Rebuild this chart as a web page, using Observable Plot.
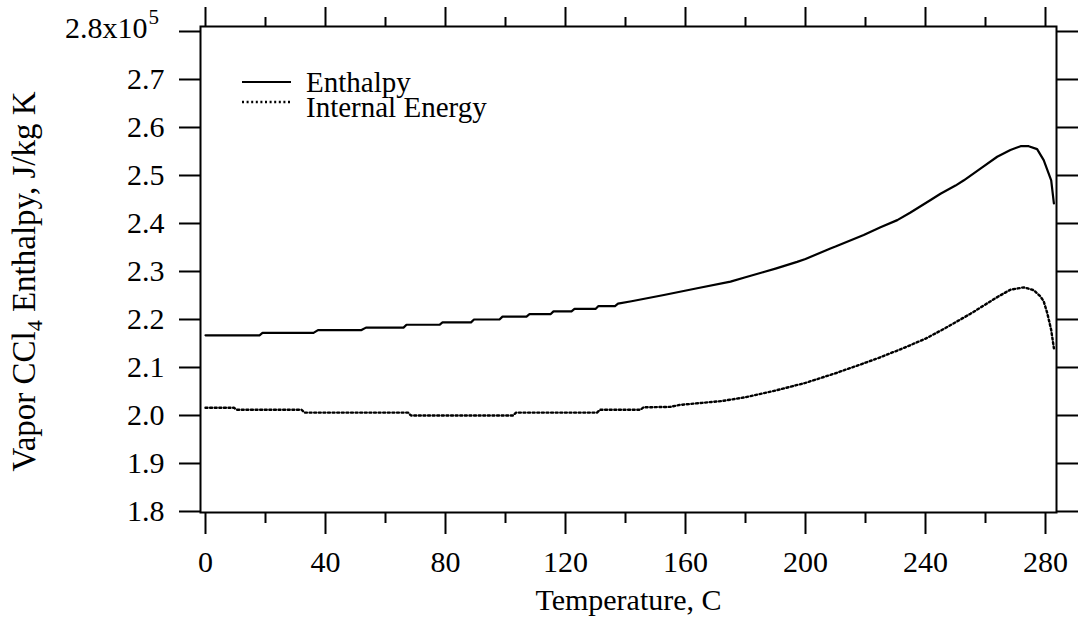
<!DOCTYPE html>
<html>
<head>
<meta charset="utf-8">
<script src="https://cdn.jsdelivr.net/npm/d3@7"></script>
<script src="https://cdn.jsdelivr.net/npm/@observablehq/plot@0.6"></script>
<style>
  html, body { margin: 0; padding: 0; background: #fff; }
  #chart svg { display: block; }
</style>
</head>
<body>
<div id="chart"></div>
<script>
// ---- Data (enthalpy values in units of 10^5 J/kg K) ----
const enthalpyTemperature = [0, 18, 19, 36, 37.5, 52, 53.5, 66, 67, 78, 79, 88.5, 89.5, 98, 99, 107, 108, 115, 116, 122, 123, 130, 131, 136.5, 137.5, 142, 152.8, 163.9, 175, 180, 186.1, 190, 197.2, 200, 208.3, 210, 219.4, 225, 230.6, 235, 241.7, 245, 250, 252.8, 258.9, 263.9, 268.3, 271.7, 274.4, 277.2, 279.4, 281.9, 282.8];
const enthalpyValues = [2.167, 2.167, 2.172, 2.172, 2.178, 2.178, 2.183, 2.183, 2.189, 2.189, 2.194, 2.194, 2.200, 2.200, 2.206, 2.206, 2.211, 2.211, 2.217, 2.217, 2.222, 2.222, 2.228, 2.228, 2.233, 2.238, 2.251, 2.265, 2.279, 2.288, 2.299, 2.306, 2.320, 2.326, 2.348, 2.352, 2.376, 2.392, 2.407, 2.423, 2.449, 2.462, 2.479, 2.490, 2.517, 2.539, 2.553, 2.561, 2.561, 2.555, 2.532, 2.490, 2.442];

const energyTemperature = [0, 9.5, 10.5, 32, 33, 67.5, 68.5, 102.5, 103.5, 130.5, 131.5, 145, 146, 155, 158, 165, 172, 180, 190, 200, 210, 220, 224, 232.5, 240, 246, 255, 261.7, 264, 268.3, 272.8, 276.1, 278.3, 279.4, 280.6, 281.9, 282.8];
const energyValues = [2.016, 2.016, 2.012, 2.012, 2.006, 2.006, 2.000, 2.000, 2.006, 2.006, 2.012, 2.012, 2.017, 2.018, 2.022, 2.026, 2.030, 2.038, 2.052, 2.068, 2.088, 2.110, 2.119, 2.140, 2.160, 2.180, 2.212, 2.238, 2.247, 2.262, 2.267, 2.261, 2.248, 2.238, 2.213, 2.178, 2.140];

const seriesNames = ["Enthalpy", "Internal Energy"];
const xMajorTicks = [0, 40, 80, 120, 160, 200, 240, 280];
const xMinorTicks = [20, 60, 100, 140, 180, 220, 260];
const yTicks = [1.8, 1.9, 2.0, 2.1, 2.2, 2.3, 2.4, 2.5, 2.6, 2.7, 2.8];
const yTopLabel = "2.8x10";
const yTopExponent = "5";
const xTitle = "Temperature, C";
const yTitle = "Vapor CCl4 Enthalpy, J/kg K";

// ---- Tables built from arrays ----
const enthalpyData = enthalpyTemperature.map((t, i) => ({t, v: enthalpyValues[i]}));
const energyData = energyTemperature.map((t, i) => ({t, v: energyValues[i]}));

const FONT = '"Liberation Serif", "Times New Roman", Times, serif';

const chart = Plot.plot({
  width: 1078,
  height: 623,
  marginLeft: 200,
  marginRight: 22,
  marginTop: 26,
  marginBottom: 111,
  style: {fontFamily: FONT, fontSize: "30px", color: "black", background: "white"},
  x: {domain: [-5/3, 283.667], label: null},
  y: {domain: [1.7979, 2.8104], label: null},
  marks: [
    Plot.frame({stroke: "black", strokeWidth: 2}),
    // bottom axis
    Plot.axisX(xMajorTicks, {anchor: "bottom", tickSize: 22, tickPadding: 16, strokeWidth: 2, fontSize: 30, tickFormat: d => String(d), label: null}),
    Plot.axisX(xMinorTicks, {anchor: "bottom", tickSize: 11, strokeWidth: 2, tickFormat: () => "", label: null}),
    // top axis
    Plot.axisX(xMajorTicks, {anchor: "top", tickSize: 20, strokeWidth: 2, tickFormat: () => "", label: null}),
    Plot.axisX(xMinorTicks, {anchor: "top", tickSize: 10, strokeWidth: 2, tickFormat: () => "", label: null}),
    // left axis
    Plot.axisY(yTicks, {anchor: "left", tickSize: 21, tickPadding: 15, strokeWidth: 2, fontSize: 30, tickFormat: d => d === 2.8 ? "" : d.toFixed(1), label: null}),
    // right axis
    Plot.axisY(yTicks, {anchor: "right", tickSize: 21, strokeWidth: 2, tickFormat: () => "", label: null}),
    // top y label with exponent
    Plot.text([2.8], {y: d => d, frameAnchor: "left", dx: -53, dy: -3, textAnchor: "end", text: () => yTopLabel, fontSize: 30, fill: "black"}),
    Plot.text([2.8], {y: d => d, frameAnchor: "left", dx: -52, dy: -14, textAnchor: "start", text: () => yTopExponent, fontSize: 21, fill: "black"}),
    // axis titles
    Plot.text([xTitle], {frameAnchor: "bottom", dy: 88, lineAnchor: "middle", textAnchor: "middle", text: d => d, fontSize: 30, fill: "black"}),
    Plot.text([yTitle], {frameAnchor: "left", dx: -176, dy: 12, rotate: -90, lineAnchor: "middle", textAnchor: "middle", text: d => d, fontSize: 33, fill: "black"}),
    // data
    Plot.line(enthalpyData, {x: "t", y: "v", stroke: "black", strokeWidth: 2.2}),
    Plot.line(energyData, {x: "t", y: "v", stroke: "black", strokeWidth: 2.4, strokeDasharray: "2,2.6"})
  ]
});

// subscript in y title
d3.select(chart).selectAll("text").filter(function() { return this.textContent === yTitle; }).each(function() {
  const t = d3.select(this);
  t.text(null);
  t.append("tspan").text("Vapor CCl");
  t.append("tspan").attr("font-size", 22).attr("dy", 7).text("4");
  t.append("tspan").attr("dy", -7).text(" Enthalpy, J/kg K");
});

// legend
const lg = d3.select(chart).append("g")
  .attr("font-family", FONT).attr("font-size", 29).attr("fill", "black").attr("text-anchor", "start");
lg.append("line").attr("x1", 242).attr("x2", 291).attr("y1", 82).attr("y2", 82).attr("stroke", "black").attr("stroke-width", 2.2);
lg.append("text").attr("x", 306).attr("y", 92).attr("text-anchor", "start").text(seriesNames[0]);
lg.append("line").attr("x1", 242).attr("x2", 291).attr("y1", 102).attr("y2", 102).attr("stroke", "black").attr("stroke-width", 2.4).attr("stroke-dasharray", "2,2.6");
lg.append("text").attr("x", 306).attr("y", 117).attr("text-anchor", "start").text(seriesNames[1]);

document.getElementById("chart").appendChild(chart);
</script>
</body>
</html>
